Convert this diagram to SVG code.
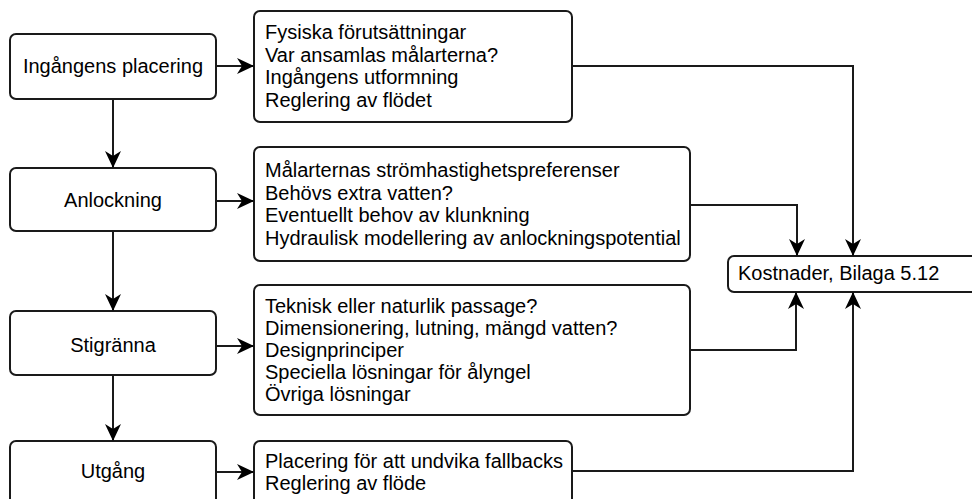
<svg xmlns="http://www.w3.org/2000/svg" width="972" height="499" viewBox="0 0 972 499">
  <defs>
    <marker id="arrow" markerUnits="userSpaceOnUse" markerWidth="20" markerHeight="20" viewBox="-18 -9 20 18" refX="0" refY="0" orient="auto">
      <path d="M0,0 L-17,-8 L-12,0 L-17,8 Z" fill="#000"/>
    </marker>
  </defs>
  <style>
    .box { fill: #fff; stroke: #1a1a1a; stroke-width: 2; }
    .lbl { font-family: "Liberation Sans", Arial, sans-serif; font-size: 20px; fill: #000; }
    .mid { text-anchor: middle; }
    .edge { fill: none; stroke: #1a1a1a; stroke-width: 2; marker-end: url(#arrow); }
  </style>
  <rect width="972" height="499" fill="#fff"/>

  <!-- process steps -->
  <g id="step-ingang">
    <rect class="box" x="10" y="34" width="206" height="65" rx="6"/>
    <text class="lbl mid" x="113" y="73">Ingångens placering</text>
  </g>
  <g id="step-anlockning">
    <rect class="box" x="10" y="168" width="206" height="63" rx="6"/>
    <text class="lbl mid" x="113" y="207">Anlockning</text>
  </g>
  <g id="step-stigranna">
    <rect class="box" x="10" y="311" width="206" height="64" rx="6"/>
    <text class="lbl mid" x="113" y="352">Stigränna</text>
  </g>
  <g id="step-utgang">
    <rect class="box" x="10" y="441" width="206" height="70" rx="6"/>
    <text class="lbl mid" x="113" y="478">Utgång</text>
  </g>

  <!-- considerations per step -->
  <g id="detail-ingang">
    <rect class="box" x="254" y="11" width="318" height="111" rx="6"/>
    <text class="lbl" x="265" y="39">Fysiska förutsättningar</text>
    <text class="lbl" x="265" y="61.5">Var ansamlas målarterna?</text>
    <text class="lbl" x="265" y="84">Ingångens utformning</text>
    <text class="lbl" x="265" y="106.5">Reglering av flödet</text>
  </g>
  <g id="detail-anlockning">
    <rect class="box" x="254" y="147" width="436" height="114" rx="6"/>
    <text class="lbl" x="265" y="177">Målarternas strömhastighetspreferenser</text>
    <text class="lbl" x="265" y="199.5">Behövs extra vatten?</text>
    <text class="lbl" x="265" y="222">Eventuellt behov av klunkning</text>
    <text class="lbl" x="265" y="244.5">Hydraulisk modellering av anlockningspotential</text>
  </g>
  <g id="detail-stigranna">
    <rect class="box" x="254" y="285" width="436" height="130" rx="6"/>
    <text class="lbl" x="265" y="313">Teknisk eller naturlik passage?</text>
    <text class="lbl" x="265" y="335">Dimensionering, lutning, mängd vatten?</text>
    <text class="lbl" x="265" y="357">Designprinciper</text>
    <text class="lbl" x="265" y="379">Speciella lösningar för ålyngel</text>
    <text class="lbl" x="265" y="401">Övriga lösningar</text>
  </g>
  <g id="detail-utgang">
    <rect class="box" x="254" y="441" width="318" height="70" rx="6"/>
    <text class="lbl" x="265" y="468">Placering för att undvika fallbacks</text>
    <text class="lbl" x="265" y="490">Reglering av flöde</text>
  </g>

  <!-- cost reference -->
  <g id="kostnader">
    <rect class="box" x="728" y="256" width="250" height="36" rx="6"/>
    <text class="lbl" x="738" y="280">Kostnader, Bilaga 5.12</text>
  </g>

  <!-- connectors -->
  <g id="connectors">
    <path class="edge" d="M113,99 V168"/>
    <path class="edge" d="M113,231 V311"/>
    <path class="edge" d="M113,375 V441"/>
    <path class="edge" d="M216,66 H254"/>
    <path class="edge" d="M216,201 H254"/>
    <path class="edge" d="M216,346 H254"/>
    <path class="edge" d="M216,472 H254"/>
    <path class="edge" d="M572,66 H853 V256"/>
    <path class="edge" d="M690,205 H797 V256"/>
    <path class="edge" d="M690,350 H796 V292"/>
    <path class="edge" d="M572,471 H853 V292"/>
  </g>
</svg>
